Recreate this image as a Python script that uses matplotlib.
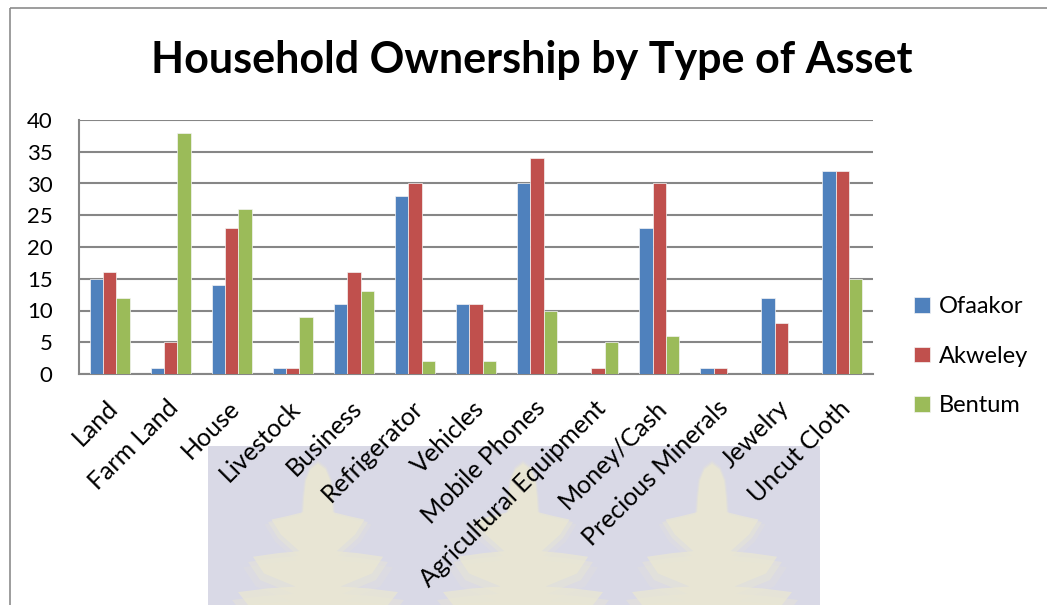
import matplotlib
matplotlib.use("Agg")
import matplotlib.pyplot as plt
import numpy as np
from matplotlib.patches import Rectangle, Polygon
from matplotlib.transforms import Affine2D, ScaledTranslation

# --- data -------------------------------------------------------------
categories = ["Land", "Farm Land", "House", "Livestock", "Business",
              "Refrigerator", "Vehicles", "Mobile Phones",
              "Agricultural Equipment", "Money/Cash", "Precious Minerals",
              "Jewelry", "Uncut Cloth"]
ofaakor = [15, 1, 14, 1, 11, 28, 11, 30, 0, 23, 1, 12, 32]
akweley = [16, 5, 23, 1, 16, 30, 11, 34, 1, 30, 1, 8, 32]
bentum = [12, 38, 26, 9, 13, 2, 2, 10, 5, 6, 0, 0, 15]
series_names = ["Ofaakor", "Akweley", "Bentum"]
y_ticks = [0, 5, 10, 15, 20, 25, 30, 35, 40]

colors = ["#4F81BD", "#C0504D", "#9BBB59"]
FONT = "Lato"

W, H = 1047, 605
fig = plt.figure(figsize=(W / 100, H / 100), dpi=100)
fig.patch.set_facecolor("white")

# pixel -> figure-fraction helper for decorations
px = Affine2D().scale(1 / W, -1 / H).translate(0, 1) + fig.transFigure

# faint background emblem
fig.patches.append(Rectangle((208, 446), 612, 165, transform=px,
                             facecolor="#d9d9e6", edgecolor="none", zorder=-3))


def frond(cx, top):
    right = [(0, 0), (8, 6), (13, 18), (15, 36), (16, 52), (32, 56),
             (50, 60), (40, 76), (20, 94), (42, 96), (70, 100), (58, 118),
             (24, 132), (54, 134), (86, 138), (72, 156), (28, 170)]
    pts = right + [(-x, y) for x, y in reversed(right[1:])]
    return [(cx + x, top + y) for x, y in pts]


# soft-edged fronds: a few stacked translucent copies
for cx in (318, 523, 712):
    for grow, a in ((1.07, 0.2), (1.0, 0.4), (0.93, 0.7)):
        pts = [(cx + (xx - cx) * grow, 462 + (yy - 462) * grow - (grow - 1) * 25)
               for xx, yy in frond(cx, 462)]
        fig.patches.append(Polygon(pts, closed=True, transform=px,
                                   facecolor="#ebe8d2", edgecolor="none",
                                   alpha=a, zorder=-2))

# outer chart frame
fig.patches.append(Rectangle((10, 8), 1100, 700, transform=px, fill=False,
                             edgecolor="#8c8c8c", linewidth=1.2, zorder=-1))

# --- axes ---------------------------------------------------------------
left, right, top, bottom = 79, 873, 120, 374
ax = fig.add_axes([left / W, 1 - bottom / H, (right - left) / W, (bottom - top) / H])
ax.set_zorder(2)
ax.patch.set_alpha(0)

x = np.arange(len(categories))
bw = 0.218
for i, (vals, name, c) in enumerate(zip([ofaakor, akweley, bentum], series_names, colors)):
    ax.bar(x + (i - 1) * bw, vals, width=bw, color=c, edgecolor="#f4f4f4",
           linewidth=0.5, label=name, zorder=3)

ax.set_xlim(-0.5, len(categories) - 0.5)
ax.set_ylim(0, 40)
ax.set_yticks(y_ticks)
ax.set_yticklabels([str(v) for v in y_ticks], fontsize=16, family=FONT)
ax.yaxis.grid(True, color="#868686", linewidth=1.5, zorder=1)
ax.set_axisbelow(True)
for s in ("top", "right"):
    ax.spines[s].set_visible(False)
for s in ("left", "bottom"):
    ax.spines[s].set_color("#868686")
    ax.spines[s].set_linewidth(1.5)
ax.tick_params(axis="y", length=0, pad=19)
ax.tick_params(axis="x", length=0, pad=16)

ax.set_xticks(x)
ax.set_xticklabels(categories, rotation=45, ha="right", va="top",
                   rotation_mode="anchor", fontsize=18, family=FONT)
shift = ScaledTranslation(-4 / 100, 0, fig.dpi_scale_trans)
for lbl in ax.get_xticklabels():
    lbl.set_transform(lbl.get_transform() + shift)

fig.text(532 / W, 1 - 60 / H, "Household Ownership by Type of Asset",
         ha="center", va="center", fontsize=31, fontweight="bold", family=FONT)

leg = ax.legend(loc="upper left", bbox_to_anchor=(905 / W, 1 - 287 / H),
                bbox_transform=fig.transFigure, frameon=False,
                prop={"family": FONT, "size": 17}, handlelength=0.65,
                handleheight=0.65, handletextpad=0.4, labelspacing=1.2,
                borderaxespad=0)

fig.savefig("out.png", dpi=100, facecolor="white")
